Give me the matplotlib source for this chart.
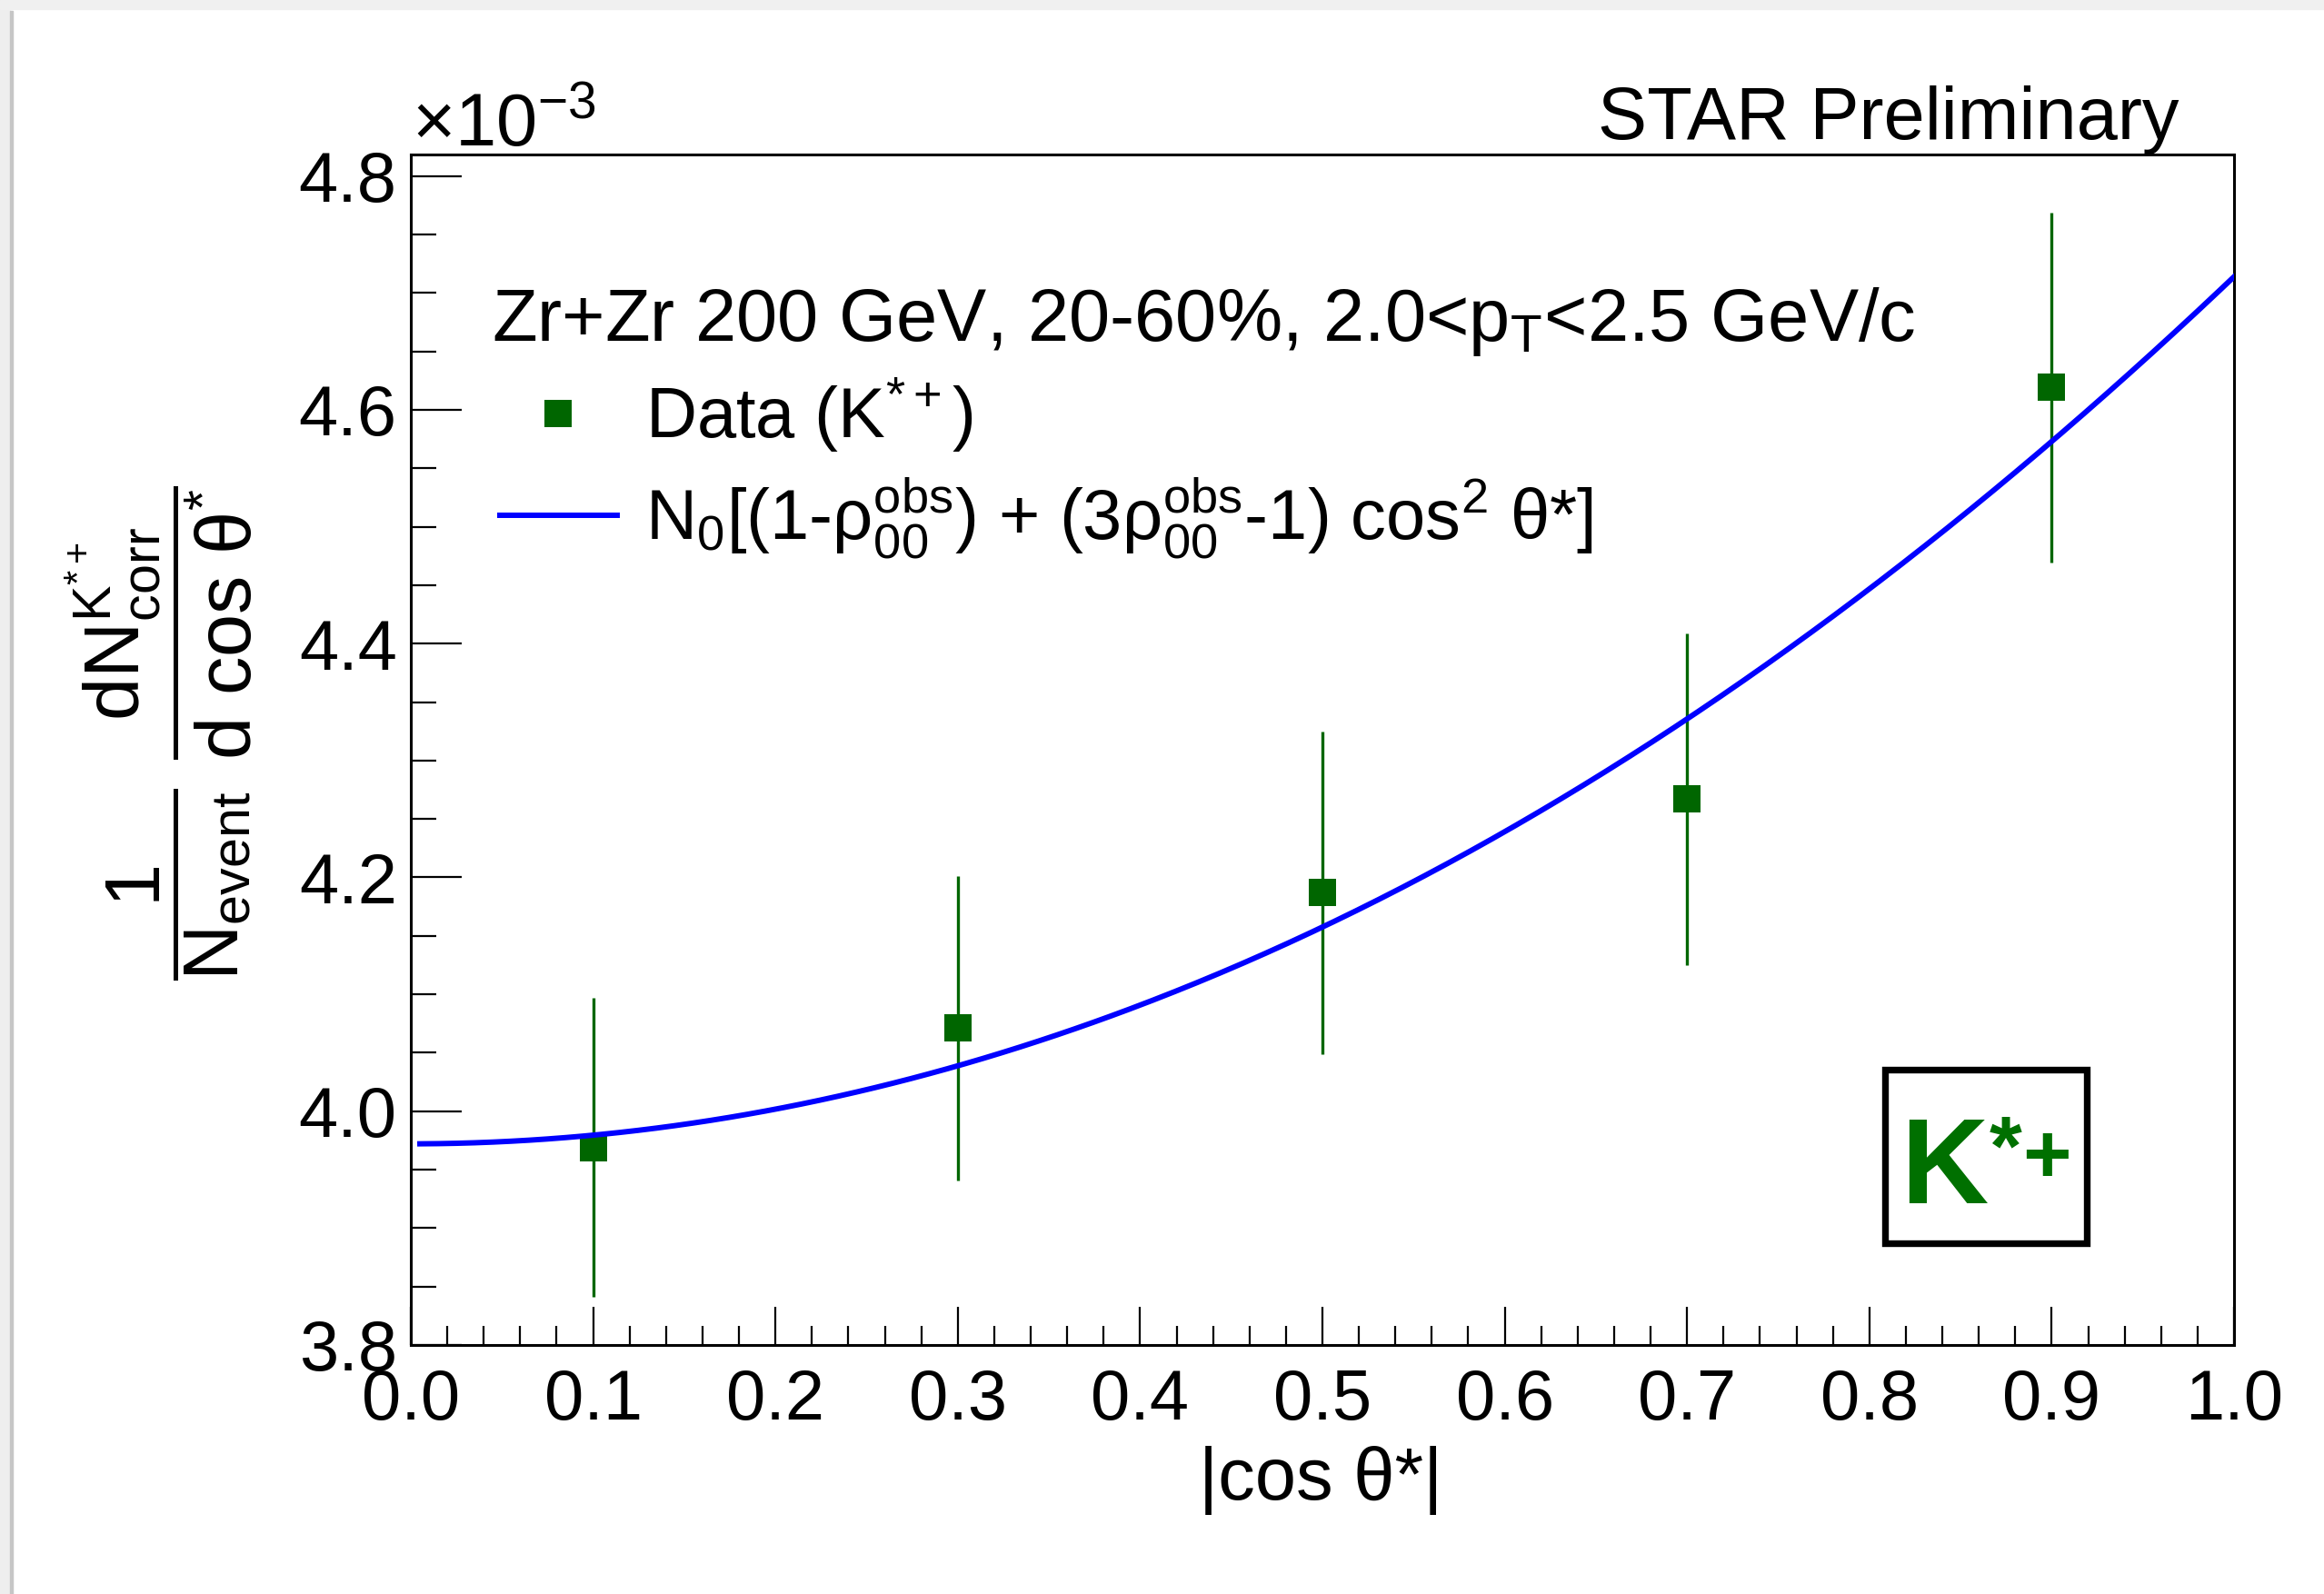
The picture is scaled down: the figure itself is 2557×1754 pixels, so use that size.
import numpy as np
import matplotlib
matplotlib.use('Agg')
import matplotlib.pyplot as plt
from matplotlib.patches import Rectangle
from matplotlib.ticker import MultipleLocator, FormatStrFormatter

plt.rcParams['font.family'] = ['Liberation Sans', 'DejaVu Sans']
plt.rcParams['mathtext.fontset'] = 'custom'
plt.rcParams['mathtext.rm'] = 'Liberation Sans'
plt.rcParams['mathtext.it'] = 'Liberation Sans'
plt.rcParams['mathtext.bf'] = 'Liberation Sans:bold'
plt.rcParams['mathtext.default'] = 'regular'

# |cos theta*| bins and corrected yields (units of 1e-3)
cos_theta = [0.1, 0.3, 0.5, 0.7, 0.9]
yield_vals = [3.969, 4.071, 4.187, 4.267, 4.619]
yield_errs = [0.128, 0.130, 0.138, 0.142, 0.150]

# fit parameters: N0 (units of 1e-3) and rho00^obs
n0 = 6.329
rho00 = 0.3724

W, H = 2557, 1754
fs = 56
fs_text = 58.5
green = '#006600'


def fx(px):
    return px / W


def fy(py):
    return 1 - py / H


fig = plt.figure(figsize=(W / 100, H / 100), dpi=100)
ax = fig.add_axes([452 / W, 1 - 1480 / H, 2006 / W, 1310 / H])

ax.errorbar(cos_theta, yield_vals, yerr=yield_errs, fmt='none',
            ecolor=green, elinewidth=2.4, capsize=0, zorder=2)
pts, = ax.plot(cos_theta, yield_vals, 's', color=green, ms=21, mew=0,
               ls='none', zorder=3, label='Data (K$^{*+}$)')
xs = np.linspace(0.005, 1.0, 400)
fit, = ax.plot(xs, n0 * ((1 - rho00) + (3 * rho00 - 1) * xs ** 2),
               color='#0000ff', lw=4.3, zorder=4,
               label=r'N$_{0}$[(1-$\rho^{obs}_{00}$) + (3$\rho^{obs}_{00}$-1) cos$^{2}$ $\theta$*]')

ax.set_xlim(0, 1)
ax.set_ylim(3.8, 4.8184)
ax.xaxis.set_major_locator(MultipleLocator(0.1))
ax.xaxis.set_minor_locator(MultipleLocator(0.02))
ax.yaxis.set_major_locator(MultipleLocator(0.2))
ax.yaxis.set_minor_locator(MultipleLocator(0.05))
ax.xaxis.set_major_formatter(FormatStrFormatter('%.1f'))
ax.yaxis.set_major_formatter(FormatStrFormatter('%.1f'))
ax.tick_params(which='both', direction='in', top=False, right=False,
               labelsize=fs, width=1.6)
ax.tick_params(axis='x', which='major', length=30, pad=18)
ax.tick_params(axis='x', which='minor', length=15)
ax.tick_params(axis='y', which='major', length=40, pad=11)
ax.tick_params(axis='y', which='minor', length=20)
for sp in ax.spines.values():
    sp.set_linewidth(2.2)

leg = ax.legend(handles=[pts, fit], loc='upper left',
                bbox_to_anchor=(0.049, 0.814), frameon=False, fontsize=fs,
                handlelength=1.65, handletextpad=0.4, labelspacing=0.3,
                borderpad=0, borderaxespad=0, numpoints=1)

# K*+ label box
ax.add_patch(Rectangle((0.8086, 0.0855), 0.1107, 0.1458, transform=ax.transAxes,
                       fc='white', ec='black', lw=5.3, zorder=5))
fig.text(fx(2091), fy(1324), 'K', color='#007000', fontsize=96,
         fontweight='bold', va='baseline', zorder=6)
fig.text(fx(2207), fy(1292), '*', color='#007000', fontsize=66,
         fontweight='bold', ha='center', va='baseline', zorder=6)
fig.text(fx(2252), fy(1301), '+', color='#007000', fontsize=66,
         fontweight='bold', ha='center', va='baseline', zorder=6)

fig.text(fx(541), fy(375), 'Zr+Zr 200 GeV, 20-60%, 2.0<p$_{T}$<2.5 GeV/c',
         fontsize=fs_text, va='baseline')
fig.text(fx(2397), fy(153), 'STAR Preliminary', fontsize=fs_text,
         ha='right', va='baseline')
fig.text(fx(453), fy(161), r'$\times$10$^{-3}$', fontsize=fs_text, va='baseline')
fig.text(fx(1453), fy(1650), '|cos θ*|', fontsize=fs_text, ha='center', va='baseline')
fig.text(fx(175), fy(807),
         r'$\dfrac{1}{N_{event}}\ \dfrac{dN^{K^{*+}}_{corr}}{d\ cos\ \theta^{*}}$',
         fontsize=61, rotation=90, ha='center', va='center')

# grey shadow along left and top edges
fig.patches.append(Rectangle((0, 0), 11 / W, 1, transform=fig.transFigure,
                             color='#eeeeee', zorder=0))
fig.patches.append(Rectangle((11 / W, 0), 3 / W, 1 - 12 / H, transform=fig.transFigure,
                             color='#c6c6c6', zorder=0))
fig.patches.append(Rectangle((0, 1 - 10 / H), 1, 10 / H, transform=fig.transFigure,
                             color='#f0f0f0', zorder=0))

fig.savefig('out.png', dpi=100)
